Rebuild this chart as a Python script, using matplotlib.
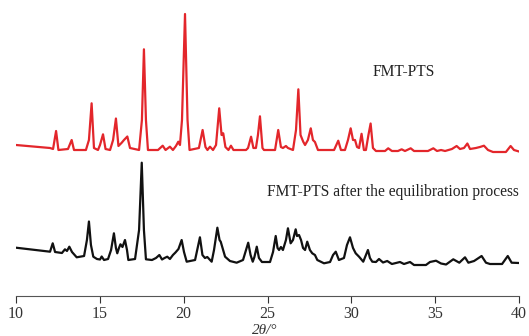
import numpy as np
import matplotlib
matplotlib.use("Agg")
import matplotlib.pyplot as plt

red_2theta = [10.00, 12.03, 12.21, 12.39, 12.53, 13.10, 13.32, 13.46, 14.17, 14.35,
              14.51, 14.65, 14.89, 15.01, 15.19, 15.34, 15.61, 15.79, 15.96, 16.11,
              16.29, 16.44, 16.64, 16.80, 17.34, 17.51, 17.63, 17.75, 17.87, 18.47,
              18.75, 18.92, 19.18, 19.36, 19.54, 19.68, 19.78, 19.90, 20.08, 20.23,
              20.35, 20.91, 21.13, 21.30, 21.42, 21.57, 21.75, 21.93, 22.12, 22.26,
              22.36, 22.49, 22.67, 22.82, 22.97, 23.72, 23.84, 24.02, 24.16, 24.31,
              24.43, 24.55, 24.70, 24.79, 25.45, 25.64, 25.80, 25.92, 26.10, 26.22,
              26.52, 26.70, 26.84, 26.97, 27.13, 27.24, 27.41, 27.58, 27.71, 27.83,
              28.01, 28.97, 29.22, 29.38, 29.62, 29.80, 29.96, 30.10, 30.22, 30.34,
              30.46, 30.61, 30.75, 30.87, 31.02, 31.15, 31.29, 31.47, 32.01, 32.20,
              32.42, 32.78, 33.00, 33.20, 33.54, 33.74, 34.57, 34.89, 35.11, 35.35,
              35.59, 36.00, 36.28, 36.48, 36.72, 36.92, 37.08, 37.43, 37.67, 37.91,
              38.15, 38.45, 39.22, 39.50, 39.70, 40.00]
red_int = [151, 148, 147, 165, 146, 147, 156, 146, 146, 156,
           192.7, 148, 146, 151, 161.7, 147, 146, 156, 177.5, 150,
           153, 156, 159.5, 148, 146, 176, 246.7, 176, 146, 146,
           150.3, 146, 149.3, 146, 150, 154.3, 151, 176, 282, 176,
           146, 148, 166, 149, 146, 149.3, 146, 151, 187.7, 161,
           162.7, 149, 146, 150.3, 146, 146, 148, 159.3, 148, 148,
           161, 179.7, 148, 146, 146, 166, 149, 148, 150, 148,
           146, 166, 206.7, 161, 154.3, 151, 156, 167.7, 156, 154,
           146, 146, 155.3, 146, 146, 156, 167.7, 156, 156, 149,
           148, 162.2, 146, 146, 161, 172.5, 148, 145, 145, 147.7,
           145, 145, 146.7, 145, 147.7, 145, 145, 147.7, 145, 146,
           145, 147, 150, 147, 148, 152.5, 147, 148, 149, 150.3,
           146, 144, 144, 150, 146, 144.5]

black_2theta = [10.00, 12.03, 12.19, 12.33, 12.74, 12.92, 13.04, 13.18, 13.34, 13.62,
                14.06, 14.23, 14.35, 14.47, 14.61, 14.83, 15.01, 15.11, 15.25, 15.49,
                15.67, 15.84, 15.96, 16.04, 16.14, 16.23, 16.35, 16.50, 16.62, 16.70,
                17.10, 17.34, 17.50, 17.63, 17.75, 18.11, 18.35, 18.55, 18.71, 18.86,
                19.02, 19.18, 19.36, 19.51, 19.69, 19.88, 20.02, 20.18, 20.68, 20.97,
                21.12, 21.27, 21.41, 21.67, 21.81, 22.01, 22.14, 22.21, 22.47, 22.76,
                23.16, 23.54, 23.85, 23.99, 24.12, 24.22, 24.36, 24.49, 24.67, 25.15,
                25.33, 25.49, 25.60, 25.69, 25.80, 25.92, 26.10, 26.22, 26.38, 26.52,
                26.68, 26.76, 26.88, 27.00, 27.12, 27.24, 27.37, 27.53, 27.67, 27.83,
                27.97, 28.37, 28.73, 28.91, 29.07, 29.26, 29.56, 29.74, 29.92, 30.10,
                30.26, 30.46, 30.71, 30.87, 30.99, 31.11, 31.25, 31.47, 31.65, 31.89,
                32.14, 32.42, 32.90, 33.14, 33.50, 33.74, 34.45, 34.69, 35.05, 35.35,
                35.65, 36.08, 36.44, 36.78, 36.98, 37.32, 37.77, 38.03, 38.27, 38.69,
                38.99, 39.33, 39.56, 40.00]
black_int = [48.3, 44.3, 52.7, 44, 43, 46.7, 45, 49.3, 44, 38.7,
             40, 56, 74.5, 51, 39.3, 37, 36.5, 39.5, 36, 37,
             46, 62.7, 48, 42.7, 48, 51.7, 49, 56, 46, 36,
             37, 66, 133.3, 66, 36.7, 36, 38, 41, 36.5, 38,
             39.3, 37, 41, 43.5, 47, 56, 44, 34.3, 36, 58.7,
             41, 38, 39, 34.3, 46, 68.3, 56, 54.3, 39.3, 35,
             33.3, 36, 53.3, 41, 34.3, 39, 49.3, 38, 34, 34,
             44, 60, 48, 46, 49, 46, 56, 67.7, 52.7, 56,
             66.7, 60, 61, 56, 48, 46, 54.3, 46, 42.7, 41,
             36, 32.7, 34, 41, 44.3, 36, 38, 51, 58.7, 48,
             42.7, 39.3, 34.3, 41, 46, 38, 34.3, 34, 37, 33.5,
             35, 32, 34, 32, 34, 31, 31, 34, 35.3, 32.5,
             31.5, 36.7, 33.3, 38.7, 33.3, 35, 40, 33.3, 32, 32,
             32, 40, 33.3, 33]

xticks = [10, 15, 20, 25, 30, 35, 40]

plt.rcParams["font.family"] = ["Liberation Serif", "DejaVu Serif"]

fig = plt.figure(figsize=(5.29, 3.36), dpi=100)
ax = fig.add_axes([16 / 529, 40 / 336, 503 / 529, 296 / 336])

ax.plot(red_2theta, red_int, color="#e3262b", lw=1.6, solid_joinstyle="round")
ax.plot(black_2theta, black_int, color="#111111", lw=1.6, solid_joinstyle="round")

ax.text(33.1, 224, "FMT-PTS", fontsize=11.2, ha="center", va="center", color="#222222")
ax.text(24.97, 104, "FMT-PTS after the equilibration process", fontsize=11.2,
        ha="left", va="center", color="#222222")

ax.set_xlim(10, 40)
ax.set_ylim(0, 296)
ax.set_xticks(xticks)
ax.tick_params(axis="x", direction="out", length=5, width=0.8, labelsize=11.5,
               pad=2, colors="#333333")
ax.set_yticks([])
for s in ("left", "right", "top"):
    ax.spines[s].set_visible(False)
ax.spines["bottom"].set_color("#555555")
ax.spines["bottom"].set_linewidth(0.8)
fig.text(265 / 529, 1 - 330 / 336, "2θ/°", fontsize=11, fontstyle="italic",
         ha="center", va="center", color="#333333")

fig.savefig("out.png", dpi=100)
